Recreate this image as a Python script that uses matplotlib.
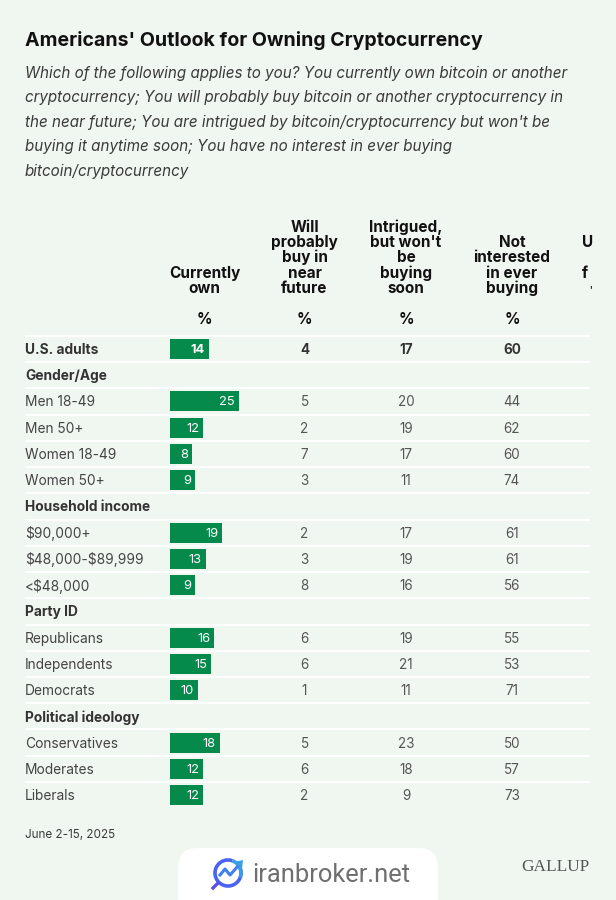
# Americans' outlook for owning cryptocurrency - table with bars in first column

import matplotlib
matplotlib.use("Agg")
import matplotlib.pyplot as plt
from matplotlib.patches import FancyBboxPatch, Arc, Polygon

FONT = ["Inter", "DejaVu Sans"]
plt.rcParams["font.family"] = FONT
plt.rcParams["text.parse_math"] = False

# data

title = "Americans' Outlook for Owning Cryptocurrency"
subtitle_lines = [
    "Which of the following applies to you? You currently own bitcoin or another",
    "cryptocurrency; You will probably buy bitcoin or another cryptocurrency in",
    "the near future; You are intrigued by bitcoin/cryptocurrency but won't be",
    "buying it anytime soon; You have no interest in ever buying",
    "bitcoin/cryptocurrency",
]
headers = [
    ["Currently", "own"],
    ["Will", "probably", "buy in", "near", "future"],
    ["Intrigued,", "but won't", "be", "buying", "soon"],
    ["Not", "interested", "in ever", "buying"],
]
labels = ["U.S. adults", "Gender/Age", "Men 18-49", "Men 50+", "Women 18-49", "Women 50+",
          "Household income", "$90,000+", "$48,000-$89,999", "<$48,000",
          "Party ID", "Republicans", "Independents", "Democrats",
          "Political ideology", "Conservatives", "Moderates", "Liberals"]
own = [14, None, 25, 12, 8, 9, None, 19, 13, 9, None, 16, 15, 10, None, 18, 12, 12]
will_buy = [4, None, 5, 2, 7, 3, None, 2, 3, 8, None, 6, 6, 1, None, 5, 6, 2]
intrigued = [17, None, 20, 19, 17, 11, None, 17, 19, 16, None, 19, 21, 11, None, 23, 18, 9]
not_interested = [60, None, 44, 62, 60, 74, None, 61, 61, 56, None, 55, 53, 71, None, 50, 57, 73]
footnote = "June 2-15, 2025"

# layout (pixels)

BG = "#F0F7F0"
GREEN = "#068A4C"
DARK = "#111111"
GREY = "#3A3A3A"
LEFT, RIGHT = 25, 590
BAR_X = 170
BAR_SCALE = 2.76
ROW0, ROW_STEP = 349, 26.24
COLS = [204.5, 304.5, 406, 512]

fig = plt.figure(figsize=(6.16, 9.0), dpi=100, facecolor=BG)
ax = fig.add_axes([0, 0, 1, 1])
ax.set_xlim(0, 616)
ax.set_ylim(900, 0)
ax.axis("off")

ax.text(LEFT, 46, title, fontsize=14.05, fontweight="bold", color=DARK, va="baseline")
for i, line in enumerate(subtitle_lines):
    ax.text(LEFT, 78 + i * 24.4, line, fontsize=10.95, style="italic", color=GREY, va="baseline")

# column headers, bottom aligned

for cx, lines in zip(COLS, headers):
    for j, line in enumerate(reversed(lines)):
        ax.text(cx, 293 - j * 15.35, line, fontsize=11, fontweight="bold", color=DARK,
                ha="center", va="baseline")
    ax.text(cx, 324, "%", fontsize=11, fontweight="bold", color=DARK, ha="center", va="baseline")

# last column is cut off in the original, only these pieces show

ax.text(582, 247, "U", fontsize=11, fontweight="bold", color=DARK, va="baseline")
ax.text(582, 278, "f", fontsize=11, fontweight="bold", color=DARK, va="baseline")
ax.text(589, 292, "'", fontsize=6, fontweight="bold", color=DARK, va="baseline")

# row separators

for i in range(len(labels)):
    y = ROW0 - ROW_STEP / 2 + i * ROW_STEP
    ax.plot([LEFT, RIGHT], [y, y], color="white", lw=1.3, solid_capstyle="butt", zorder=1)

# rows

for i, lab in enumerate(labels):
    y = ROW0 + i * ROW_STEP
    head = own[i] is None
    strong = head or i == 0
    ax.text(LEFT, y - 0.5, lab, fontsize=9.9, color="#333333" if strong else "#444444",
            fontweight="bold" if strong else "normal", va="center_baseline")
    if head:
        continue
    ax.barh(y, own[i] * BAR_SCALE, left=BAR_X, height=20, color=GREEN, zorder=2)
    w = "bold" if i == 0 else "normal"
    ax.text(BAR_X + own[i] * BAR_SCALE - 4, y - 0.5, str(own[i]), fontsize=9.3, color="white", fontweight=w,
            ha="right", va="center_baseline", zorder=3)
    for cx, col in zip(COLS[1:], [will_buy, intrigued, not_interested]):
        ax.text(cx, y - 0.5, str(col[i]), fontsize=9.7, color="#333333" if i == 0 else "#555555", fontweight=w,
                ha="center", va="center_baseline")

ax.text(LEFT, 838, footnote, fontsize=8.4, color=GREY, va="baseline")
ax.text(590, 871, "GALLUP", fontsize=12.4, color="#555555", family="Liberation Serif", ha="right", va="baseline")

# watermark box

ax.add_patch(FancyBboxPatch((178, 848), 260, 80, boxstyle="round,pad=0,rounding_size=20",
                            fc="white", ec="none", zorder=4))
ax.add_patch(Arc((228, 873), 26, 26, theta1=-20, theta2=290, color="#4A63F0", lw=2.6, zorder=5))
ax.add_patch(Arc((228, 873), 26, 26, theta1=-70, theta2=20, color="#3B9BEA", lw=2.6, zorder=5))
ax.plot([220, 225, 230, 239], [875, 869, 875, 865], color="#3F7FEE", lw=2.2, zorder=5)
ax.add_patch(Polygon([[234, 862], [243, 860], [242, 869]], fc="#36A0E8", ec="none", zorder=5))
ax.plot([213, 218], [888, 883], color="#5B4FE8", lw=2.4, zorder=5)
ax.text(252, 882, "iranbroker.net", fontsize=18.4, color="#6F6F6F", family="Roboto", va="baseline", zorder=5)

fig.savefig("out.png", dpi=100, facecolor=BG)
